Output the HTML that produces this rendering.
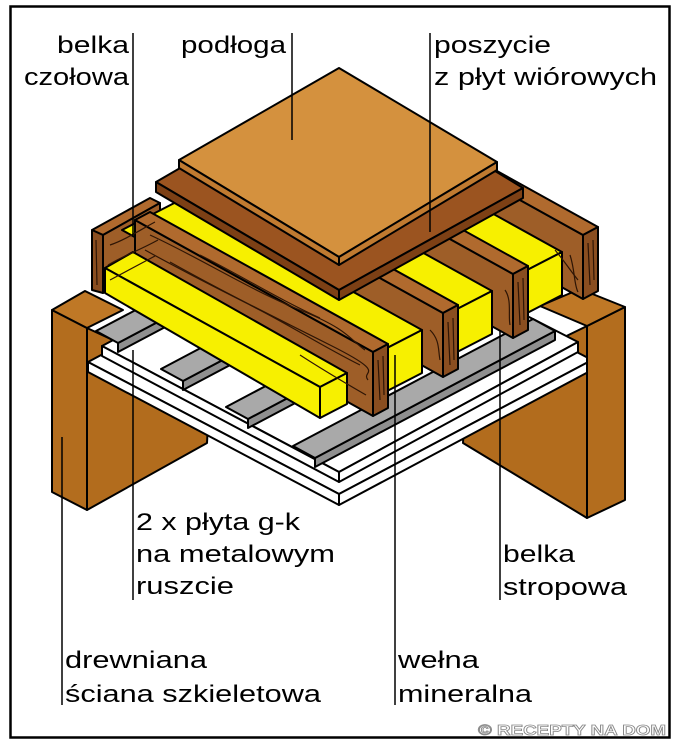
<!DOCTYPE html>
<html><head><meta charset="utf-8"><style>
html,body{margin:0;padding:0;background:#fff;}
svg{display:block;}
text{font-family:"Liberation Sans",Arial,sans-serif;font-size:24px;fill:#000;}
</style></head><body>
<svg width="675" height="750" viewBox="0 0 675 750" xmlns="http://www.w3.org/2000/svg">
<rect x="0" y="0" width="675" height="750" fill="#fff"/>
<rect x="10.5" y="6.5" width="659" height="731" fill="none" stroke="#000" stroke-width="2.5"/>

<g stroke="#000" stroke-width="2" stroke-linejoin="round">
<polygon points="87,328 210,385 207,443 87,510" fill="#b26c1d"/>
<polygon points="587,326 466,385 463,443 587,518" fill="#b26c1d"/>

<polygon points="88,362 339,228 592,360 339,494" fill="#fff"/>
<polygon points="88,362 339,494 339,505 88,372" fill="#fff"/>
<polygon points="339,494 592,360 592,370 339,505" fill="#fff"/>
<polygon points="102,346 339,220 578,342 339,472" fill="#fff"/>
<polygon points="102,346 339,472 339,482 102,356" fill="#fff"/>
<polygon points="339,472 578,342 578,352 339,482" fill="#fff"/>

<g fill="#a9a9a9">
<polygon points="118,343 358,216 358,225 118,352" fill="#8f8f8f"/>
<polygon points="118,343 358,216 336,204 96,331"/>
<polygon points="183,381 423,254 423,263 183,390" fill="#8f8f8f"/>
<polygon points="183,381 423,254 401,242 161,369"/>
<polygon points="248,419 488,292 488,301 248,428" fill="#8f8f8f"/>
<polygon points="248,419 488,292 466,280 226,407"/>
<polygon points="315,458 555,331 555,340 315,467" fill="#8f8f8f"/>
<polygon points="315,458 555,331 533,319 293,446"/>
</g>

<polygon points="52,310 87,328 87,510 52,492" fill="#b36d1e"/>
<polygon points="52,310 85,291 123,310 87,328" fill="#bf7826"/>
<polygon points="587,326 625,307 625,500 587,518" fill="#b36d1e"/>
<polygon points="540,306 580,289 625,307 587,326" fill="#bf7826"/>

<polygon points="92,230 150,198 160,203 103,235" fill="#b06a2e"/>
<polygon points="103,235 160,203 160,262 103,293" fill="#9e5e28"/>
<polygon points="92,230 103,235 103,293 92,290" fill="#8a4e20"/>

<polygon points="345,167 583,299 583,235 345,103" fill="#9e5e28"/>
<polygon points="345,103 360,95 598,227 583,235" fill="#b06a2e"/>
<polygon points="583,235 598,227 598,291 583,299" fill="#8a4e20"/>

<polygon points="500,284 562,252 324,120 262,152" fill="#f7f000"/>
<polygon points="500,284 562,252 562,295 500,327" fill="#f7f000"/>
<polygon points="275,142 513,274 513,338 275,206" fill="#9e5e28"/>
<polygon points="275,142 290,134 528,266 513,274" fill="#b06a2e"/>
<polygon points="513,274 528,266 528,330 513,338" fill="#8a4e20"/>
<polygon points="430,323 492,291 254,159 192,191" fill="#f7f000"/>
<polygon points="430,323 492,291 492,334 430,366" fill="#f7f000"/>
<polygon points="205,181 443,313 443,377 205,245" fill="#9e5e28"/>
<polygon points="205,181 220,173 458,305 443,313" fill="#b06a2e"/>
<polygon points="443,313 458,305 458,369 443,377" fill="#8a4e20"/>
<polygon points="360,362 422,330 184,198 122,230" fill="#f7f000"/>
<polygon points="360,362 422,330 422,373 360,405" fill="#f7f000"/>
<polygon points="135,220 373,352 373,416 135,284" fill="#9e5e28"/>
<polygon points="135,220 150,212 388,344 373,352" fill="#b06a2e"/>
<polygon points="373,352 388,344 388,408 373,416" fill="#8a4e20"/>
<polygon points="105,268 133,252 347,373 320,387" fill="#f7f000"/>
<polygon points="105,268 320,387 320,418 105,293" fill="#f7f000"/>
<polygon points="320,387 347,373 347,404 320,418" fill="#f7f000"/>
</g>

<g stroke="#2e1505" stroke-width="1.2" fill="none">
<path d="M150,235 C200,258 250,290 300,310 S350,340 365,350"/>
<path d="M145,250 C190,275 240,300 290,325"/>
<path d="M170,262 C220,290 270,315 330,345 S360,370 368,380"/>
<path d="M200,255 C240,275 280,300 320,318"/>
<path d="M250,305 C290,325 320,345 360,365"/>
<path d="M300,355 C320,368 340,380 366,395"/>
<path d="M378,360 L380,400 M383,356 L384,395"/>
<path d="M448,322 L450,365 M453,318 L454,360"/>
<path d="M518,282 L520,325 M523,278 L524,320"/>
<path d="M588,243 L590,285 M593,240 L594,280"/>
<path d="M430,330 C440,340 438,350 440,360"/>
<path d="M505,290 C512,300 508,315 510,325"/>
<path d="M570,255 C575,270 574,285 578,292"/>
<path d="M555,250 C565,262 570,270 578,280"/>
<path d="M110,245 C125,240 140,230 155,222 M108,265 C125,255 140,250 158,240 M110,280 L155,256"/>
<path d="M96,240 L97,285"/>
</g>

<g stroke="#000" stroke-width="2" stroke-linejoin="round">
<polygon points="339,76 156,182 339,290 523,188" fill="#9b5420"/>
<polygon points="156,182 339,290 339,300 156,192" fill="#7d4015"/>
<polygon points="339,290 523,188 523,198 339,300" fill="#7d4015"/>
<polygon points="339,68 179,160 339,257 497,162" fill="#d4913e"/>
<polygon points="179,160 339,257 339,265 179,168" fill="#c07a30"/>
<polygon points="339,257 497,162 497,170 339,265" fill="#c07a30"/>
</g>

<g stroke="#000" stroke-width="1.5">
<line x1="133" y1="33" x2="133" y2="236"/>
<line x1="292" y1="33" x2="292" y2="140"/>
<line x1="430" y1="33" x2="430" y2="232"/>
<line x1="133" y1="350" x2="133" y2="600"/>
<line x1="62" y1="437" x2="62" y2="705"/>
<line x1="395" y1="355" x2="395" y2="705"/>
<line x1="500" y1="330" x2="500" y2="600"/>
</g>

<text x="57" y="53" textLength="72" lengthAdjust="spacingAndGlyphs">belka</text>
<text x="24" y="85" textLength="105" lengthAdjust="spacingAndGlyphs">czołowa</text>
<text x="181" y="53" textLength="105" lengthAdjust="spacingAndGlyphs">podłoga</text>
<text x="434" y="53" textLength="117" lengthAdjust="spacingAndGlyphs">poszycie</text>
<text x="434" y="85" textLength="223" lengthAdjust="spacingAndGlyphs">z płyt wiórowych</text>
<text x="136" y="530" textLength="164" lengthAdjust="spacingAndGlyphs">2 x płyta g-k</text>
<text x="136" y="562" textLength="199" lengthAdjust="spacingAndGlyphs">na metalowym</text>
<text x="136" y="594" textLength="98" lengthAdjust="spacingAndGlyphs">ruszcie</text>
<text x="503" y="562" textLength="72" lengthAdjust="spacingAndGlyphs">belka</text>
<text x="503" y="595" textLength="124" lengthAdjust="spacingAndGlyphs">stropowa</text>
<text x="65" y="668" textLength="142" lengthAdjust="spacingAndGlyphs">drewniana</text>
<text x="65" y="702" textLength="256" lengthAdjust="spacingAndGlyphs">ściana szkieletowa</text>
<text x="398" y="668" textLength="81" lengthAdjust="spacingAndGlyphs">wełna</text>
<text x="398" y="702" textLength="134" lengthAdjust="spacingAndGlyphs">mineralna</text>
<text x="478" y="735" textLength="188" lengthAdjust="spacingAndGlyphs" style="font-size:15px;font-weight:bold;fill:#fff;stroke:#8a8a8a;stroke-width:0.8">© RECEPTY NA DOM</text>
</svg>
</body></html>
